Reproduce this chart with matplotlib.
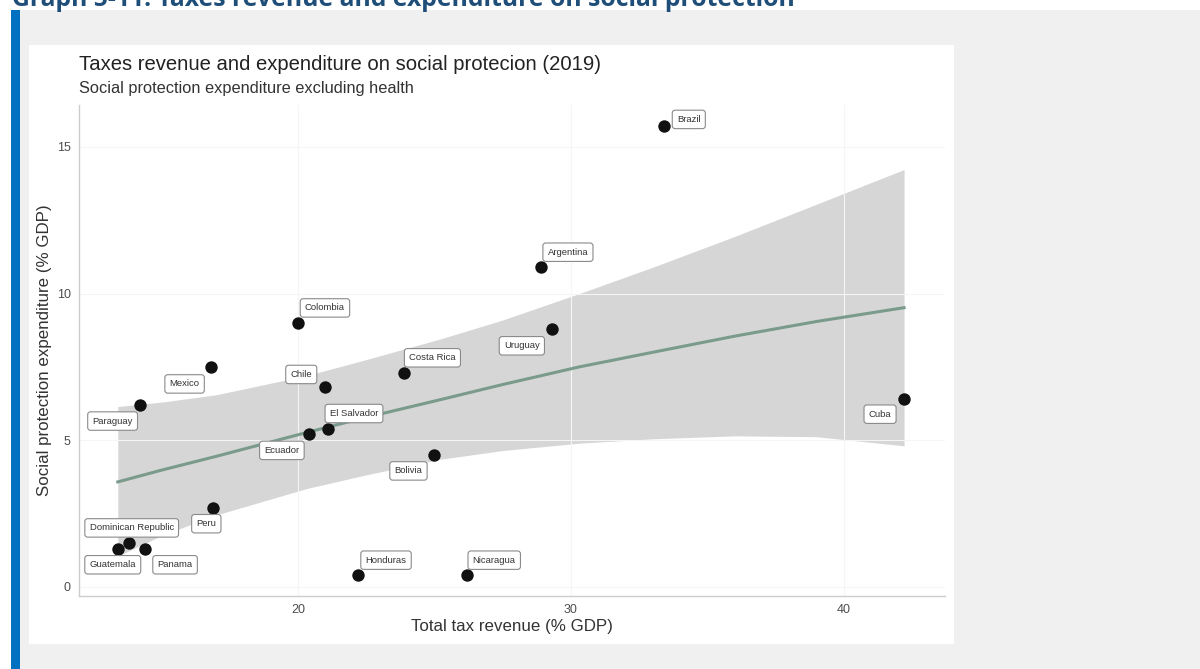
import numpy as np
import matplotlib.pyplot as plt
from matplotlib.patches import Rectangle

plt.rcParams['font.family'] = ['Liberation Sans', 'DejaVu Sans']

# tax revenue vs social protection spending, 2019 (% of GDP)
countries = ['Brazil', 'Argentina', 'Uruguay', 'Colombia', 'Costa Rica', 'Mexico',
             'Chile', 'Paraguay', 'El Salvador', 'Ecuador', 'Bolivia', 'Cuba', 'Peru',
             'Dominican Republic', 'Guatemala', 'Panama', 'Honduras', 'Nicaragua']
tax_revenue = [33.4, 28.9, 29.3, 20.0, 23.9, 16.8, 21.0, 14.2, 21.1, 20.4, 25.0, 42.2,
               16.9, 13.8, 13.4, 14.4, 22.2, 26.2]
social_exp = [15.7, 10.9, 8.8, 9.0, 7.3, 7.5, 6.8, 6.2, 5.4, 5.2, 4.5, 6.4,
              2.7, 1.5, 1.3, 1.3, 0.4, 0.4]

# smoothed trend and its 95% band
trend_x = [13.4, 15.0, 17.0, 20.3, 22.5, 25.2, 27.5, 30.3, 33.0, 36.0, 39.0, 42.2]
trend_fit = [3.58, 3.98, 4.45, 5.26, 5.78, 6.38, 6.90, 7.50, 8.00, 8.55, 9.05, 9.52]
trend_upper = [6.15, 6.30, 6.55, 7.20, 7.75, 8.45, 9.10, 10.00, 10.90, 11.95, 13.05, 14.23]
trend_lower = [1.05, 1.75, 2.45, 3.35, 3.82, 4.35, 4.65, 4.90, 5.05, 5.15, 5.12, 4.81]

# label offsets in pixels (dx, dy), repel-style placement
label_offsets = [(25, 7), (27, 15), (-30, -17), (27, 15), (28, 15), (-26, -17),
                 (-24, 13), (-27, -16), (26, 15), (-27, -16), (-26, -16), (-24, -15),
                 (-7, -16), (3, 15), (-5, -16), (30, -16), (28, 15), (27, 15)]

fig = plt.figure(figsize=(12, 6.69), dpi=100)
fig.patch.set_facecolor('white')

# page background, side bar and white card
fig.add_artist(Rectangle((20 / 1200, 0), 1, 1 - 10 / 669, transform=fig.transFigure,
                         facecolor='#f0f0f0', edgecolor='none', zorder=-3))
fig.add_artist(Rectangle((11 / 1200, 0), 9 / 1200, 1 - 10 / 669, transform=fig.transFigure,
                         facecolor='#0070c0', edgecolor='none', zorder=-2))
fig.add_artist(Rectangle((29 / 1200, 25 / 669), 925 / 1200, 599 / 669, transform=fig.transFigure,
                         facecolor='white', edgecolor='none', zorder=-2))

fig.text(12 / 1200, 1 - 6 / 669, 'Graph 5-11: Taxes revenue and expenditure on social protection',
         fontsize=17.8, fontweight='bold', color='#1f4e79', family='Open Sans',
         ha='left', va='baseline')

ax = fig.add_axes([79 / 1200, 73 / 669, 866 / 1200, 491 / 669])
ax.set_facecolor('none')

ax.fill_between(trend_x, trend_lower, trend_upper, color='#d6d6d6', lw=0, zorder=1)
ax.plot(trend_x, trend_fit, color='#7a9b8c', lw=2.2, zorder=2)
ax.scatter(tax_revenue, social_exp, s=80, color='#111111', zorder=3, lw=0)

for name, xi, yi, (dx, dy) in zip(countries, tax_revenue, social_exp, label_offsets):
    ax.annotate(name, (xi, yi), xytext=(dx, dy), textcoords='offset pixels',
                ha='center', va='center', fontsize=6.8, color='#333333', zorder=4,
                bbox=dict(boxstyle='round,pad=0.5,rounding_size=0.3', fc='white',
                          ec='#8a8a8a', lw=0.8))

ax.set_xlim(11.98, 43.7)
ax.set_ylim(-0.31, 16.43)
ax.set_xticks([20, 30, 40])
ax.set_yticks([0, 5, 10, 15])
ax.grid(True, color='#f5f5f5', lw=0.8, zorder=0)
ax.tick_params(length=0, labelsize=9, colors='#4d4d4d', pad=6)

for side in ['top', 'right']:
    ax.spines[side].set_visible(False)
for side in ['left', 'bottom']:
    ax.spines[side].set_color('#cccccc')
    ax.spines[side].set_linewidth(1)

ax.set_xlabel('Total tax revenue (% GDP)', fontsize=12.2, color='#333333', labelpad=2)
ax.set_ylabel('Social protection expenditure (% GDP)', fontsize=12.2, color='#333333', labelpad=3)

fig.text(79 / 1200, 1 - 65 / 669, 'Taxes revenue and expenditure on social protecion (2019)',
         fontsize=14.6, color='#222222', ha='left', va='center')
fig.text(79 / 1200, 1 - 88 / 669, 'Social protection expenditure excluding health',
         fontsize=11.8, color='#333333', ha='left', va='center')

fig.savefig('out.png', dpi=100)
